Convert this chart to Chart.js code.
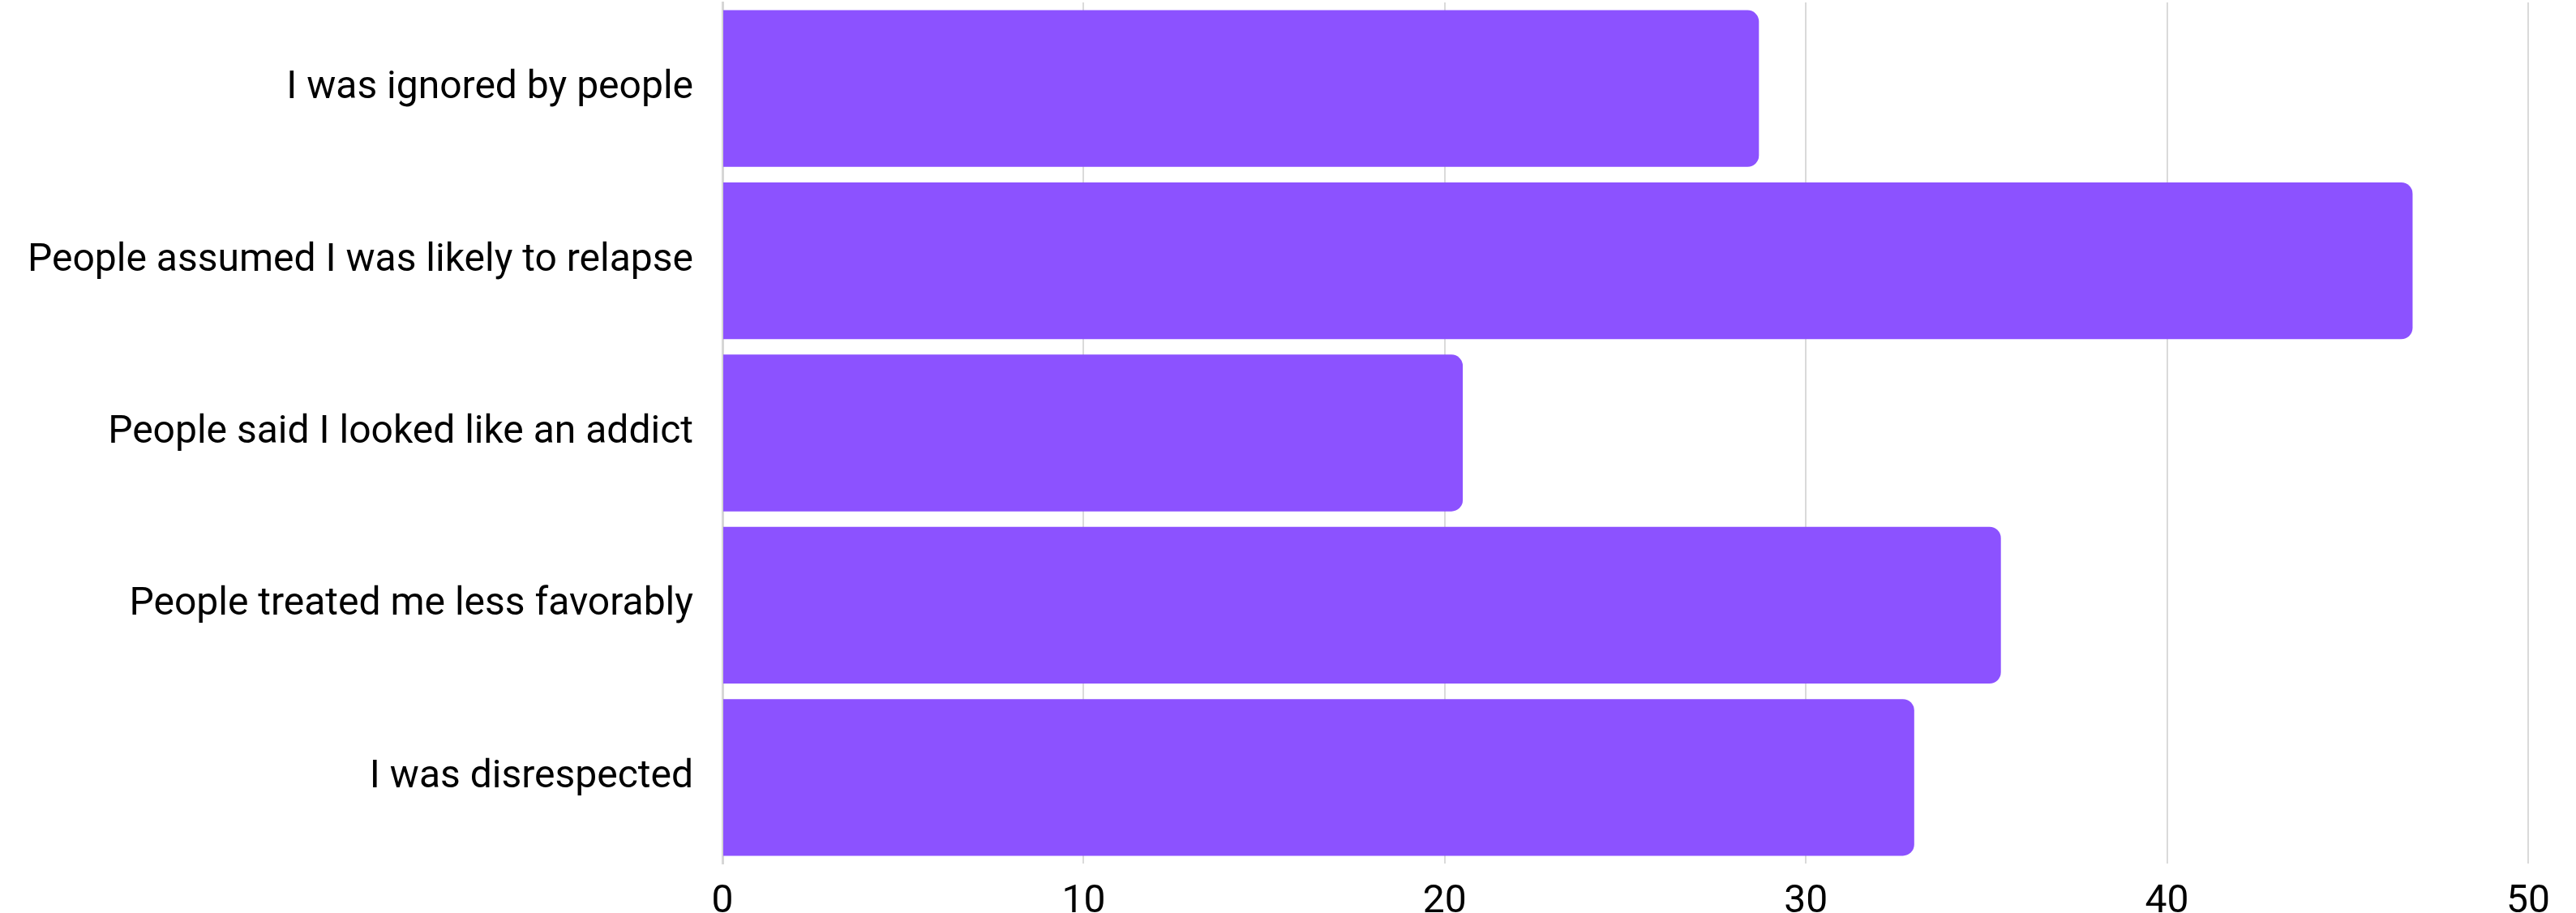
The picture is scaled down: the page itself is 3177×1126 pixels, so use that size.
<!DOCTYPE html>
<html>
<head>
<meta charset="utf-8">
<script src="https://cdn.jsdelivr.net/npm/chart.js@4/dist/chart.umd.min.js"></script>
<style>
  html, body { margin: 0; padding: 0; background: #ffffff; }
  #wrap { width: 3177px; height: 1126px; }
</style>
</head>
<body>
<div id="wrap"><canvas id="c" width="3177" height="1126"></canvas></div>
<script>
const categories = [
  "I was ignored by people",
  "People assumed I was likely to relapse",
  "People said I looked like an addict",
  "People treated me less favorably",
  "I was disrespected"
];
const values = [28.7, 46.8, 20.5, 35.4, 33.0];
const xTicks = [0, 10, 20, 30, 40, 50];

new Chart(document.getElementById('c'), {
  type: 'bar',
  data: {
    labels: categories,
    datasets: [{
      data: values,
      backgroundColor: '#8C52FF',
      borderRadius: 14,
      borderSkipped: 'start',
      categoryPercentage: 1.0,
      barPercentage: 0.91
    }]
  },
  options: {
    indexAxis: 'y',
    responsive: false,
    animation: false,
    layout: { padding: { top: 3, right: 59, bottom: 0, left: 0 } },
    plugins: { legend: { display: false }, tooltip: { enabled: false } },
    scales: {
      x: {
        min: xTicks[0],
        max: xTicks[xTicks.length - 1],
        afterBuildTicks: (axis) => { axis.ticks = xTicks.map(v => ({ value: v })); },
        afterFit: (axis) => { axis.height = 61; axis.paddingLeft = 0; axis.paddingRight = 0; },
        grid: { color: '#dadada', lineWidth: 2, drawTicks: false },
        border: { display: false },
        ticks: { color: '#000000', font: { family: 'Roboto', size: 48 }, padding: 19 }
      },
      y: {
        afterFit: (axis) => { axis.width = 891; axis.paddingTop = 0; axis.paddingBottom = 0; },
        grid: { display: false },
        border: { display: true, color: '#d6d6d6', width: 3 },
        ticks: { color: '#000000', font: { family: 'Roboto', size: 48 }, padding: 28 }
      }
    }
  }
});
</script>
</body>
</html>
